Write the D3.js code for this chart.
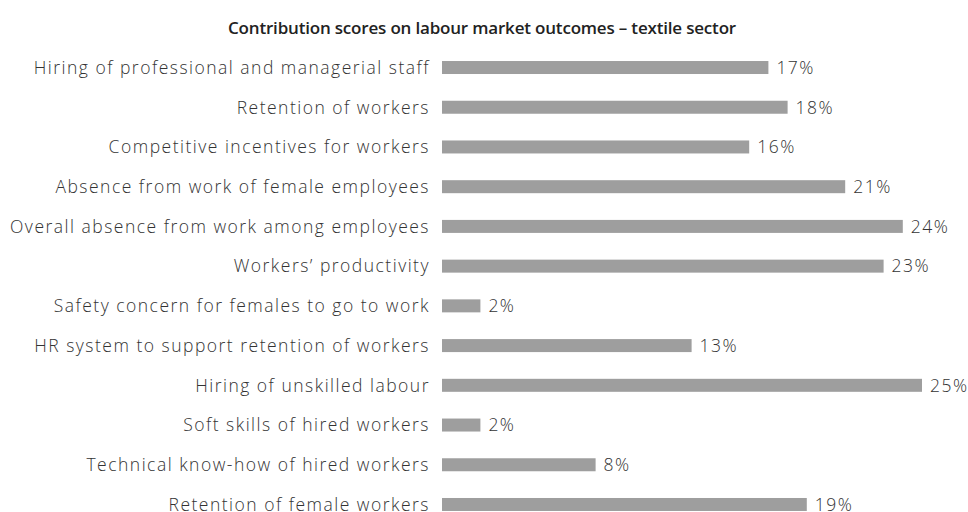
<!DOCTYPE html>
<html><head><meta charset="utf-8">
<script src="https://cdn.jsdelivr.net/npm/d3@7"></script>
<style>body{margin:0;background:#fff}svg{display:block}</style>
</head><body>
<svg id="c" width="968" height="512"></svg>
<script>
const title = "Contribution scores on labour market outcomes – textile sector";
const categories = [
  "Hiring of professional and managerial staff",
  "Retention of workers",
  "Competitive incentives for workers",
  "Absence from work of female employees",
  "Overall absence from work among employees",
  "Workers’ productivity",
  "Safety concern for females to go to work",
  "HR system to support retention of workers",
  "Hiring of unskilled labour",
  "Soft skills of hired workers",
  "Technical know-how of hired workers",
  "Retention of female workers"
];
const values = [17, 18, 16, 21, 24, 23, 2, 13, 25, 2, 8, 19];

const svg = d3.select("#c");
const font = "'Open Sans', 'Noto Sans', sans-serif";
const x = d3.scaleLinear().domain([0, 25]).range([442, 922]);
const y = d3.scaleBand().domain(categories).range([47.65, 524.35]).paddingInner(0.673).paddingOuter(0.3365);

function fitWidth(sel, target) {
  const n = sel.text().length;
  const w = sel.node().getComputedTextLength();
  return (target - w) / n;
}

const t = svg.append("text").attr("x", 482).attr("y", 34).attr("text-anchor", "middle")
  .attr("font-family", font).attr("font-size", 17).attr("font-weight", 600).attr("fill", "#222")
  .text(title);
t.attr("letter-spacing", fitWidth(t, 508));

svg.selectAll("rect.bar").data(values).enter().append("rect")
  .attr("class", "bar")
  .attr("x", x(0)).attr("y", (d, i) => y(categories[i]))
  .attr("width", d => x(d) - x(0)).attr("height", y.bandwidth())
  .attr("fill", "#9e9e9e");

const cats = svg.selectAll("text.cat").data(categories).enter().append("text")
  .attr("class", "cat")
  .attr("x", 430).attr("y", d => y(d) + y.bandwidth() / 2)
  .attr("dy", "0.36em").attr("text-anchor", "end")
  .attr("font-family", font).attr("font-size", 17.5).attr("font-weight", 300).attr("fill", "#333")
  .text(d => d);
const longest = cats.filter((d, i) => i === 4);
const ls = fitWidth(longest, 420);
cats.attr("letter-spacing", ls);

svg.selectAll("text.val").data(values).enter().append("text")
  .attr("class", "val")
  .attr("x", d => x(d) + 8).attr("y", (d, i) => y(categories[i]) + y.bandwidth() / 2)
  .attr("dy", "0.36em")
  .attr("font-family", font).attr("font-size", 17.5).attr("font-weight", 300).attr("fill", "#333")
  .attr("letter-spacing", ls)
  .text(d => d + "%");
</script>
</body></html>
